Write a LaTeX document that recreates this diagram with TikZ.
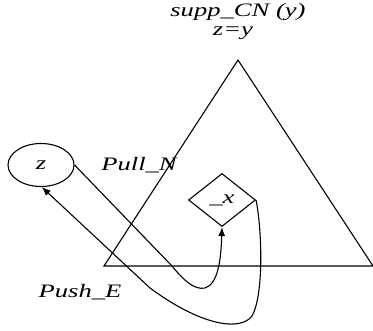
\documentclass[tikz,border=0pt]{standalone}
\usepackage{fontspec}
\setmainfont{Liberation Serif}[FakeStretch=1.4]
\usetikzlibrary{shapes.geometric,arrows.meta}

\begin{document}
\begin{tikzpicture}[x=1pt, y=-1pt, line width=1.1pt,
        font=\fontsize{19}{20}\selectfont\itshape]
        \useasboundingbox (0,0) rectangle (373,331);

        % Define nodes
        \node[inner sep=1pt] (supp) at (238,12) {supp\_CN (y)};
        \node[inner sep=1pt] (eq)   at (233,33) {z=y};
        \node[ellipse, draw, minimum width=66pt, minimum height=43pt, inner sep=0pt] (z) at (41,165) {z};
        \node[diamond, draw, minimum width=67pt, minimum height=53pt, inner sep=0pt] (x) at (222,200) {\_x};
        \node[inner sep=1pt] (pull) at (139,165) {Pull\_N};
        \node[inner sep=1pt] (push) at (80,292) {Push\_E};

        % Draw triangle
        \coordinate (top)   at (238,60);
        \coordinate (left)  at (104,266);
        \coordinate (right) at (373,266);
        \draw (top) -- (left) -- (right) -- cycle;

        % Draw edges
        \draw[-{Latex[length=9pt,width=7pt]}] (z.east) -- (172,266)
            .. controls (185,282) and (195,290) .. (205,288)
            .. controls (218,284) and (221,260) .. (x.south);
        \draw[-{Latex[length=9pt,width=7pt]}] (x.east)
            .. controls (262,230) and (264,295) .. (252,316)
            .. controls (240,332) and (200,325) .. (150,288)
            -- (z.-88);
\end{tikzpicture}
\end{document}
